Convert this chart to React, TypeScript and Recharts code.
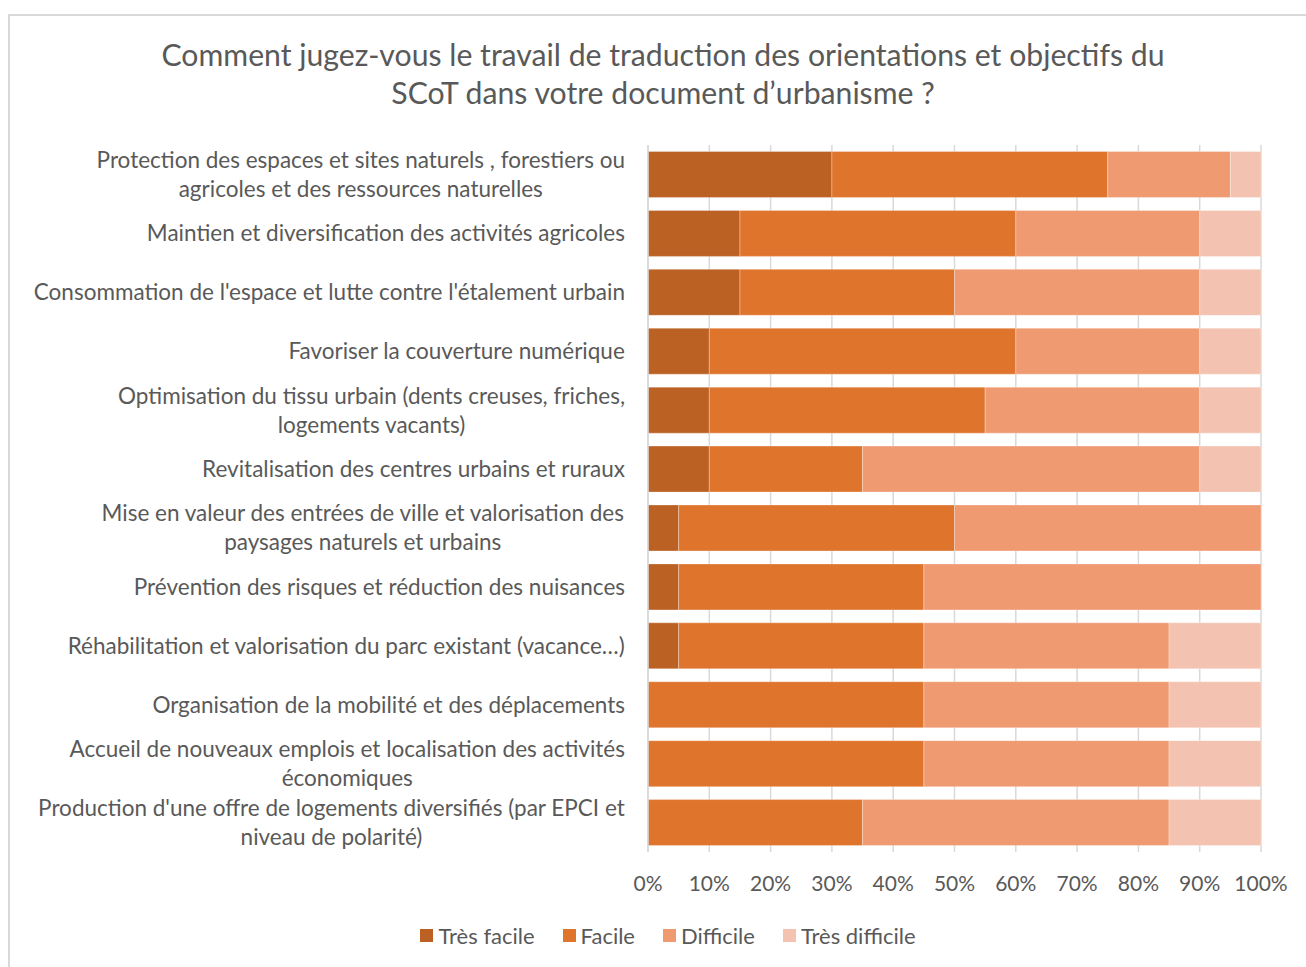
import { BarChart, Bar, XAxis, YAxis, CartesianGrid } from 'recharts';

const categories: string[][] = [
  ['Protection des espaces et sites naturels , forestiers ou', 'agricoles et des ressources naturelles'],
  ['Maintien et diversification des activités agricoles'],
  ["Consommation de l'espace et lutte contre l'étalement urbain"],
  ['Favoriser la couverture numérique'],
  ['Optimisation du tissu urbain (dents creuses, friches,', 'logements vacants)'],
  ['Revitalisation des centres urbains et ruraux'],
  ['Mise en valeur des entrées de ville et valorisation des', 'paysages naturels et urbains'],
  ['Prévention des risques et réduction des nuisances'],
  ['Réhabilitation et valorisation du parc existant (vacance…)'],
  ['Organisation de la mobilité et des déplacements'],
  ['Accueil de nouveaux emplois et localisation des activités', 'économiques'],
  ["Production d'une offre de logements diversifiés (par EPCI et", 'niveau de polarité)'],
];

const tresFacile = [30, 15, 15, 10, 10, 10, 5, 5, 5, 0, 0, 0];
const facile = [45, 45, 35, 50, 45, 25, 45, 40, 40, 45, 45, 35];
const difficile = [20, 30, 40, 30, 35, 55, 50, 55, 40, 40, 40, 50];
const tresDifficile = [5, 10, 10, 10, 10, 10, 0, 0, 15, 15, 15, 15];

const seriesNames = ['Très facile', 'Facile', 'Difficile', 'Très difficile'];
const seriesColors = ['#bb6123', '#df752d', '#f09a72', '#f4c2b0'];
const xTicks = [0, 10, 20, 30, 40, 50, 60, 70, 80, 90, 100];

const FONT = 'Lato, "Noto Sans", sans-serif';
const TEXT = '#595959';
const LABEL_SIZE = 22.5;

const data = categories.map((lines, i) => ({
  name: lines.join(' '),
  tf: tresFacile[i],
  f: facile[i],
  d: difficile[i],
  td: tresDifficile[i],
}));
const keys = ['tf', 'f', 'd', 'td'];

let ctx: CanvasRenderingContext2D | null = null;
function measure(s: string) {
  if (!ctx) {
    ctx = document.createElement('canvas').getContext('2d');
  }
  if (!ctx) return s.length * LABEL_SIZE * 0.45;
  ctx.font = `${LABEL_SIZE}px Lato`;
  return ctx.measureText(s).width;
}

function CategoryTick(props: any) {
  const { y, payload } = props;
  const lines = categories[payload.index] ?? [payload.value];
  const lh = 29;
  const right = 625;
  const maxW = Math.max(...lines.map(measure));
  const cx = right - maxW / 2;
  const start = -((lines.length - 1) * lh) / 2;
  return (
    <text x={cx} y={y} textAnchor="middle" fill={TEXT} fontSize={LABEL_SIZE} fontFamily={FONT}>
      {lines.map((l: string, k: number) => (
        <tspan key={k} x={cx} dy={k === 0 ? start + 8 : lh}>{l}</tspan>
      ))}
    </text>
  );
}

export default function App() {
  return (
    <div style={{ position: 'absolute', left: 0, top: 0, width: 1306, height: 967, overflow: 'hidden', background: '#fff', fontFamily: FONT }}>
      <div style={{ position: 'absolute', left: 8, top: 14, width: 1320, height: 980, border: '2px solid #d9d9d9' }} />
      <div style={{ position: 'absolute', left: 0, top: 35, width: 1326, textAlign: 'center', color: TEXT, fontSize: 30.2, lineHeight: '38px' }}>
        Comment jugez-vous le travail de traduction des orientations et objectifs du<br />
        SCoT dans votre document d’urbanisme ?
      </div>
      <div style={{ position: 'absolute', left: 0, top: 0 }}>
        <BarChart
          width={1306}
          height={967}
          data={data}
          layout="vertical"
          barCategoryGap="11%"
          margin={{ top: 145, right: 45, bottom: 55, left: 0 }}
        >
          <CartesianGrid horizontal={false} stroke="#d9d9d9" strokeWidth={1.5} />
          <XAxis
            type="number"
            domain={[0, 100]}
            ticks={xTicks}
            tickFormatter={(v: number) => `${v}%`}
            axisLine={false}
            tickLine={false}
            tick={{ fill: TEXT, fontSize: 21, fontFamily: FONT }}
            tickMargin={18}
            height={60}
          />
          <YAxis
            type="category"
            dataKey="name"
            width={648}
            axisLine={{ stroke: '#d9d9d9', strokeWidth: 1.5 }}
            tickLine={false}
            interval={0}
            tick={<CategoryTick />}
          />
          {keys.map((k, i) => (
            <Bar
              key={k}
              dataKey={k}
              name={seriesNames[i]}
              stackId="a"
              fill={seriesColors[i]}
              stroke="#ffffff"
              strokeOpacity={0.5}
              strokeWidth={0.6}
              isAnimationActive={false}
            />
          ))}
        </BarChart>
      </div>
      <div style={{ position: 'absolute', left: 0, top: 922, width: 1336, display: 'flex', justifyContent: 'center', gap: 28, color: TEXT, fontSize: 22 }}>
        {seriesNames.map((n, i) => (
          <div key={n} style={{ display: 'flex', alignItems: 'center' }}>
            <span style={{ width: 13, height: 13, background: seriesColors[i], marginRight: 5, display: 'inline-block' }} />
            <span>{n}</span>
          </div>
        ))}
      </div>
    </div>
  );
}
